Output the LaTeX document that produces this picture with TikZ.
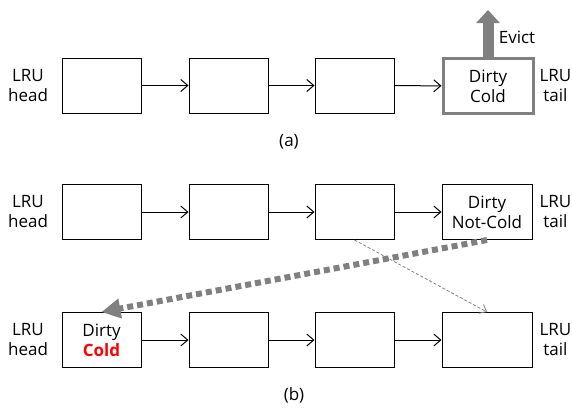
\documentclass[tikz,border=0pt]{standalone}
\usepackage{fontspec}
\setmainfont{Open Sans}
\usetikzlibrary{arrows.meta}

\definecolor{evictgray}{RGB}{128,128,128}
\definecolor{coldred}{RGB}{255,0,0}

\tikzset{
  cell/.style={draw=black, line width=1pt, minimum width=79pt, minimum height=55pt,
               inner sep=0pt, align=center},
  tailcell/.style={cell, minimum width=90pt},
  evictcell/.style={tailcell, draw=evictgray, line width=3pt},
  txt/.style={align=center, inner sep=0pt},
  link/.style={line width=1pt, -{Straight Barb[length=7pt,width=12pt,line width=1pt]}},
  movearrow/.style={draw=evictgray, line width=6pt, dash pattern=on 6pt off 4pt,
               -{Triangle[length=19pt,width=19pt]}},
  shiftarrow/.style={draw=evictgray, line width=0.8pt, dash pattern=on 3pt off 2pt,
                -{Straight Barb[length=6pt,width=10pt,line width=0.8pt]}},
  evictarrow/.style={draw=evictgray, line width=11pt, -{Triangle[length=13pt,width=23pt]}}
}

\begin{document}
\begin{tikzpicture}[x=1pt, y=-1pt, font=\fontsize{17}{20}\selectfont]
  \useasboundingbox (0,0) rectangle (572,407);

  % (a) list before eviction
  \node[cell] (a1) at (101.5,85.5) {};
  \node[cell] (a2) at (228.5,85.5) {};
  \node[cell] (a3) at (354.5,85.5) {};
  \node[evictcell] (a4) at (488,86) {Dirty\\Cold};
  \node[txt] (ahead) at (28,85.5) {LRU\\head};
  \node[txt] (atail) at (555.5,85.5) {LRU\\tail};
  \draw[link] (a1) -- (a2);
  \draw[link] (a2) -- (a3);
  \draw[link] (a3) -- (a4);
  \coordinate (evtop) at (488,10);
  \draw[evictarrow] (a4.north) -- (evtop);
  \node[txt] (evict) at (517,37) {Evict};
  \node[txt] (capa) at (289,142) {(a)};

  % (b) upper list
  \node[cell] (t1) at (101.5,212) {};
  \node[cell] (t2) at (228.5,212) {};
  \node[cell] (t3) at (354.5,212) {};
  \node[tailcell] (t4) at (487,212) {Dirty\\Not-Cold};
  \node[txt] (thead) at (28,212) {LRU\\head};
  \node[txt] (ttail) at (555.5,212) {LRU\\tail};
  \draw[link] (t1) -- (t2);
  \draw[link] (t2) -- (t3);
  \draw[link] (t3) -- (t4);

  % (b) lower list
  \node[cell] (b1) at (101.5,340) {Dirty\\\textcolor{coldred}{\bfseries Cold}};
  \node[cell] (b2) at (228.5,340) {};
  \node[cell] (b3) at (354.5,340) {};
  \node[tailcell] (b4) at (487,340) {};
  \node[txt] (bhead) at (28,340) {LRU\\head};
  \node[txt] (btail) at (555.5,340) {LRU\\tail};
  \draw[link] (b1) -- (b2);
  \draw[link] (b2) -- (b3);
  \draw[link] (b3) -- (b4);

  % moves between the two lists
  \draw[shiftarrow] (t3.south) -- (b4.north);
  \draw[movearrow] (t4.south) -- (b1.north);

  \node[txt] (capb) at (294,395) {(b)};
\end{tikzpicture}
\end{document}
